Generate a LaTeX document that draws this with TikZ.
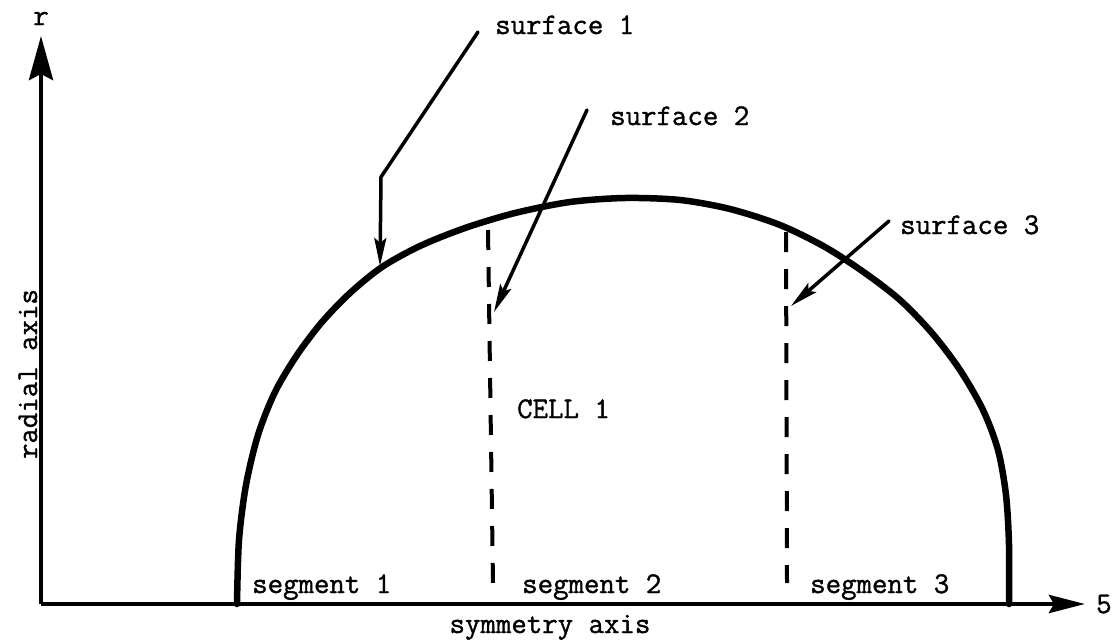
\documentclass[tikz,border=0pt]{standalone}
\usepackage{fontspec}
\setmainfont{Latin Modern Mono}[FakeBold=1.2]
\usetikzlibrary{arrows.meta}
\begin{document}
\begin{tikzpicture}[x=1pt,y=-1pt,
  lbl/.style={inner sep=0pt, font=\fontsize{30}{34}\selectfont},
  dome/.style={line width=6.5pt, line join=round, line cap=round},
  axisline/.style={line width=4.5pt},
  leader/.style={line width=3.5pt, line cap=round, line join=round, -{Stealth[length=28pt,width=12pt,inset=5pt]}},
  celldiv/.style={line width=4pt, dash pattern=on 20pt off 17pt}]
\useasboundingbox (0,0) rectangle (1113,643);
% axes
\coordinate (O) at (41,604);
\coordinate (Ytip) at (41,36);
\coordinate (Xtip) at (1085,604);
\draw[axisline,-{Stealth[length=44pt,width=24pt,inset=6pt]}] (O) -- (Ytip);
\draw[axisline,-{Stealth[length=36pt,width=18pt,inset=5pt]}] (O) -- (Xtip);
\node[lbl, anchor=base] (r) at (41,25) {r};
\node[lbl, anchor=base west] (five) at (1096,613) {5};
\node[lbl, anchor=base] (symaxis) at (550,633) {symmetry axis};
\node[lbl, anchor=base, rotate=90] (radaxis) at (37,374) {radial axis};
% dome
\draw[dome] plot[smooth, tension=0.5] coordinates {
 (237,604) (239,540) (246,485) (258,435) (275,392) (297,355) (322,322)
 (350,293) (382,267) (420,246) (465,228) (515,213) (570,202) (625,198)
 (680,200) (730,209) (780,225) (825,247) (865,273) (900,300) (932,333)
 (960,370) (983,410) (998,450) (1006,495) (1009,545) (1009,604)};
% cell dividers
\coordinate (d1t) at (488,230);
\coordinate (d1b) at (493,583);
\coordinate (d2t) at (786,232);
\coordinate (d2b) at (787,583);
\draw[celldiv] (d1t) -- (d1b);
\draw[celldiv] (d2t) -- (d2b);
% labels
\node[lbl, anchor=base west] (surf1) at (495,34) {surface 1};
\node[lbl, anchor=base west] (surf2) at (610,125) {surface 2};
\node[lbl, anchor=base west] (surf3) at (900,234) {surface 3};
\node[lbl, anchor=base west] (cell1) at (517,418) {CELL 1};
\node[lbl, anchor=base west] (seg1) at (252,593) {segment 1};
\node[lbl, anchor=base west] (seg2) at (522,593) {segment 2};
\node[lbl, anchor=base west] (seg3) at (810,593) {segment 3};
% leaders
\coordinate (s1a) at (478,32);
\coordinate (s1b) at (381,177);
\coordinate (s1c) at (380,266);
\coordinate (s2a) at (587,110);
\coordinate (s2b) at (494,312);
\coordinate (s3a) at (889,221);
\coordinate (s3b) at (791,306);
\draw[leader] (s1a) -- (s1b) -- (s1c);
\draw[leader] (s2a) -- (s2b);
\draw[leader] (s3a) -- (s3b);
\end{tikzpicture}
\end{document}
